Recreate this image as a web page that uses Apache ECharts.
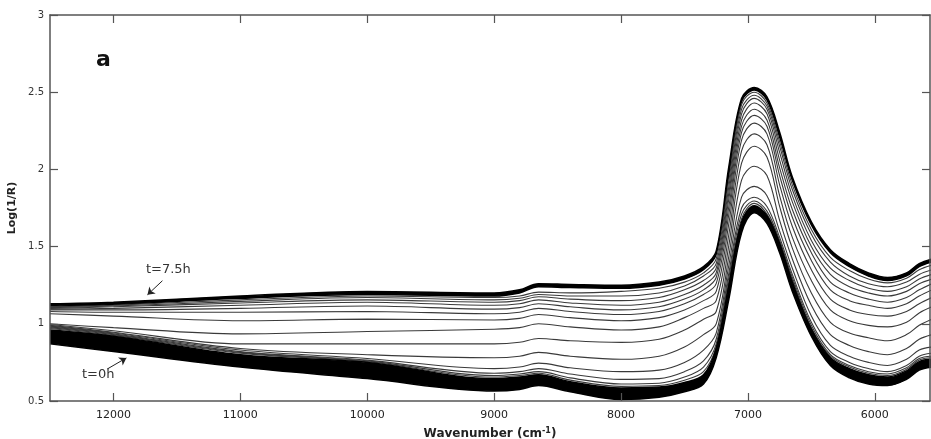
<!DOCTYPE html>
<html>
<head>
<meta charset="utf-8">
<script src="https://cdn.jsdelivr.net/npm/echarts@6/dist/echarts.min.js"></script>
<style>
html,body{margin:0;padding:0;background:#fff;}
#chart{width:931px;height:439px;}
</style>
</head>
<body>
<div id="chart"></div>
<script>
// wavenumber grid (cm-1)
var wavenumber = [12500, 12000, 11000, 10000, 9000, 8800, 8650, 8400, 8000, 7700, 7500, 7350, 7250, 7150, 7050, 6950, 6850, 6750, 6650, 6500, 6350, 6200, 6050, 5900, 5750, 5650, 5550];

// t=7.5h bundle (upper black band): top edge and lower edge
var lateTop = [1.13, 1.14, 1.18, 1.21, 1.20, 1.22, 1.26, 1.255, 1.25, 1.27, 1.31, 1.37, 1.47, 2.02, 2.46, 2.53, 2.47, 2.24, 1.95, 1.66, 1.48, 1.39, 1.33, 1.30, 1.33, 1.39, 1.42];
var lateLow = [1.115, 1.125, 1.165, 1.19, 1.18, 1.20, 1.24, 1.235, 1.23, 1.25, 1.29, 1.35, 1.45, 1.97, 2.44, 2.515, 2.45, 2.21, 1.93, 1.64, 1.46, 1.37, 1.31, 1.28, 1.31, 1.37, 1.40];

// intermediate spectra, top to bottom
var c01 = [1.11, 1.12, 1.155, 1.18, 1.17, 1.18, 1.205, 1.20, 1.21, 1.23, 1.27, 1.33, 1.42, 1.93, 2.42, 2.50, 2.43, 2.18, 1.90, 1.61, 1.43, 1.345, 1.29, 1.265, 1.295, 1.35, 1.38];
var c02 = [1.105, 1.115, 1.145, 1.17, 1.155, 1.165, 1.19, 1.18, 1.18, 1.20, 1.245, 1.31, 1.39, 1.89, 2.39, 2.48, 2.41, 2.15, 1.87, 1.58, 1.40, 1.31, 1.26, 1.24, 1.27, 1.32, 1.35];
var c03 = [1.10, 1.11, 1.135, 1.155, 1.14, 1.15, 1.175, 1.16, 1.15, 1.17, 1.22, 1.28, 1.36, 1.85, 2.36, 2.46, 2.39, 2.11, 1.83, 1.54, 1.36, 1.28, 1.23, 1.21, 1.24, 1.29, 1.32];
var c04 = [1.095, 1.10, 1.12, 1.14, 1.12, 1.13, 1.155, 1.135, 1.12, 1.14, 1.19, 1.25, 1.33, 1.81, 2.32, 2.43, 2.36, 2.06, 1.79, 1.50, 1.32, 1.24, 1.20, 1.18, 1.21, 1.26, 1.29];
var c05 = [1.09, 1.09, 1.10, 1.115, 1.095, 1.105, 1.13, 1.11, 1.09, 1.11, 1.16, 1.22, 1.30, 1.76, 2.28, 2.39, 2.32, 2.01, 1.74, 1.46, 1.27, 1.20, 1.16, 1.14, 1.17, 1.22, 1.26];
var c06 = [1.08, 1.075, 1.075, 1.08, 1.065, 1.075, 1.10, 1.08, 1.06, 1.08, 1.13, 1.19, 1.26, 1.71, 2.24, 2.35, 2.28, 1.96, 1.69, 1.41, 1.22, 1.15, 1.12, 1.10, 1.13, 1.18, 1.22];
var c07 = [1.065, 1.05, 1.02, 1.03, 1.025, 1.035, 1.06, 1.04, 1.02, 1.04, 1.09, 1.15, 1.21, 1.65, 2.19, 2.30, 2.23, 1.90, 1.63, 1.35, 1.16, 1.09, 1.06, 1.05, 1.08, 1.13, 1.17];
var c08 = [1.00, 0.975, 0.935, 0.95, 0.965, 0.975, 1.00, 0.98, 0.96, 0.98, 1.04, 1.10, 1.15, 1.58, 2.12, 2.23, 2.16, 1.83, 1.56, 1.28, 1.09, 1.02, 0.99, 0.98, 1.01, 1.07, 1.11];
var c09 = [0.995, 0.955, 0.87, 0.87, 0.87, 0.88, 0.905, 0.89, 0.88, 0.90, 0.96, 1.03, 1.08, 1.51, 2.04, 2.15, 2.08, 1.76, 1.49, 1.20, 1.01, 0.94, 0.91, 0.89, 0.93, 0.99, 1.03];
var c10 = [0.99, 0.945, 0.84, 0.80, 0.78, 0.79, 0.815, 0.79, 0.77, 0.79, 0.85, 0.93, 1.00, 1.44, 1.93, 2.02, 1.96, 1.67, 1.42, 1.12, 0.93, 0.86, 0.82, 0.80, 0.84, 0.90, 0.93];
var c11 = [0.985, 0.94, 0.83, 0.775, 0.71, 0.72, 0.745, 0.715, 0.69, 0.70, 0.75, 0.83, 0.94, 1.38, 1.82, 1.89, 1.83, 1.60, 1.36, 1.05, 0.86, 0.79, 0.75, 0.73, 0.77, 0.83, 0.85];
var c12 = [0.98, 0.935, 0.82, 0.765, 0.68, 0.69, 0.71, 0.675, 0.64, 0.645, 0.69, 0.76, 0.90, 1.33, 1.75, 1.82, 1.76, 1.56, 1.32, 1.01, 0.82, 0.75, 0.71, 0.69, 0.73, 0.79, 0.81];
var c13 = [0.975, 0.93, 0.815, 0.76, 0.665, 0.675, 0.69, 0.65, 0.61, 0.615, 0.655, 0.72, 0.87, 1.30, 1.71, 1.795, 1.73, 1.54, 1.30, 0.99, 0.80, 0.73, 0.69, 0.675, 0.715, 0.775, 0.79];
var c14 = [0.97, 0.925, 0.81, 0.755, 0.655, 0.665, 0.68, 0.635, 0.595, 0.60, 0.635, 0.69, 0.85, 1.27, 1.68, 1.78, 1.71, 1.53, 1.285, 0.975, 0.79, 0.72, 0.68, 0.665, 0.705, 0.765, 0.78];

// t=0h bundle (lower black band): upper edge and bottom edge
var earlyTop = [0.96, 0.92, 0.80, 0.75, 0.645, 0.655, 0.67, 0.625, 0.585, 0.59, 0.62, 0.67, 0.84, 1.25, 1.66, 1.765, 1.70, 1.52, 1.27, 0.965, 0.78, 0.71, 0.67, 0.655, 0.695, 0.755, 0.77];
var earlyLow = [0.87, 0.82, 0.72, 0.645, 0.565, 0.575, 0.60, 0.56, 0.51, 0.525, 0.56, 0.61, 0.78, 1.16, 1.59, 1.72, 1.65, 1.46, 1.21, 0.92, 0.73, 0.65, 0.61, 0.60, 0.64, 0.70, 0.72];

var xTicks = [6000, 7000, 8000, 9000, 10000, 11000, 12000];

var midCurves = [c01, c02, c03, c04, c05, c06, c07, c08, c09, c10, c11, c12, c13, c14];

// rows are [log(1/R), wavenumber] so that the stack runs on the y value (dim 0)
function rows(vals) {
	return wavenumber.map(function (w, i) { return [vals[i], w]; });
}
function gap(hi, lo) {
	return wavenumber.map(function (w, i) { return [+(hi[i] - lo[i]).toFixed(4), w]; });
}

var SMOOTH = 0.35;
var ENC = { x: 1, y: 0 };
var series = [];

// upper band
series.push({
	type: 'line', stack: 'late', data: rows(lateLow), encode: ENC, smooth: SMOOTH, symbol: 'none',
	lineStyle: { color: '#000', width: 1.5 }
});
series.push({
	type: 'line', stack: 'late', data: gap(lateTop, lateLow), encode: ENC, smooth: SMOOTH, symbol: 'none',
	lineStyle: { color: '#000', width: 1.5 },
	areaStyle: { color: '#000', opacity: 1 }
});

midCurves.forEach(function (c) {
	series.push({
		type: 'line', data: rows(c), encode: ENC, smooth: SMOOTH, symbol: 'none',
		lineStyle: { color: '#3a3a3a', width: 1.1 }
	});
});

// lower band
series.push({
	type: 'line', stack: 'early', data: rows(earlyLow), encode: ENC, smooth: SMOOTH, symbol: 'none',
	lineStyle: { color: '#000', width: 1.5 }
});
series.push({
	type: 'line', stack: 'early', data: gap(earlyTop, earlyLow), encode: ENC, smooth: SMOOTH, symbol: 'none',
	lineStyle: { color: '#000', width: 1.5 },
	areaStyle: { color: '#000', opacity: 1 }
});

// annotations (arrows + time labels), in data coordinates
series.push({
	type: 'line', data: [], z: 5,
	markLine: {
		silent: true, symbol: ['none', 'arrow'], symbolSize: 7,
		label: { show: false },
		lineStyle: { color: '#222', width: 1, type: 'solid' },
		data: [
			[{ coord: [11614, 1.279] }, { coord: [11732, 1.188] }],
			[{ coord: [12047, 0.708] }, { coord: [11898, 0.779] }]
		]
	},
	markPoint: {
		silent: true, symbol: 'circle', symbolSize: 0,
		label: { show: true, position: 'inside', formatter: '{b}', color: '#333', fontSize: 13, fontFamily: 'DejaVu Sans' },
		data: [
			{ name: 't=7.5h', coord: [11567, 1.35] },
			{ name: 't=0h', coord: [12120, 0.67] }
		]
	}
});

var axisCol = '#555';
var plain = function (v) { return String(v); };
var chart = echarts.init(document.getElementById('chart'));
chart.setOption({
	animation: false,
	backgroundColor: '#fff',
	grid: { left: 50, right: 1, top: 15, bottom: 38, containLabel: false, outerBoundsMode: 'none' },
	xAxis: [{
		type: 'value', inverse: true, min: 5565, max: 12500, position: 'bottom', z: 10,
		name: '{a|Wavenumber (cm}{s|-1}{a|)}', nameLocation: 'middle', nameGap: 26,
		nameTextStyle: {
			rich: {
				a: { fontSize: 12, fontWeight: 'bold', color: '#222', fontFamily: 'DejaVu Sans' },
				s: { fontSize: 8, fontWeight: 'bold', color: '#222', fontFamily: 'DejaVu Sans', verticalAlign: 'top', padding: [0, 0, 6, 0] }
			}
		},
		axisLine: { show: true, onZero: false, lineStyle: { color: axisCol, width: 1.5 } },
		axisTick: { show: true, inside: true, length: 8, customValues: xTicks, lineStyle: { color: axisCol, width: 1.2 } },
		axisLabel: { customValues: xTicks, formatter: plain, color: '#222', fontSize: 11, fontFamily: 'DejaVu Sans', margin: 9 },
		splitLine: { show: false }
	}, {
		type: 'value', inverse: true, min: 5565, max: 12500, position: 'top', z: 10,
		axisLine: { show: true, onZero: false, lineStyle: { color: axisCol, width: 1.5 } },
		axisTick: { show: true, inside: true, length: 8, customValues: xTicks, lineStyle: { color: axisCol, width: 1.2 } },
		axisLabel: { show: false },
		splitLine: { show: false }
	}],
	yAxis: [{
		type: 'value', min: 0.5, max: 3, interval: 0.5, position: 'left', z: 10,
		name: 'Log(1/R)', nameLocation: 'middle', nameGap: 32, nameRotate: 90,
		nameTextStyle: { fontSize: 11, fontWeight: 'bold', color: '#222', fontFamily: 'DejaVu Sans' },
		axisLine: { show: true, onZero: false, lineStyle: { color: axisCol, width: 1.5 } },
		axisTick: { show: true, inside: true, length: 8, lineStyle: { color: axisCol, width: 1.2 } },
		axisLabel: { formatter: plain, color: '#333', fontSize: 10, fontFamily: 'DejaVu Sans', margin: 6 },
		splitLine: { show: false }
	}, {
		type: 'value', min: 0.5, max: 3, interval: 0.5, position: 'right', z: 10,
		axisLine: { show: true, onZero: false, lineStyle: { color: axisCol, width: 1.5 } },
		axisTick: { show: true, inside: true, length: 8, lineStyle: { color: axisCol, width: 1.2 } },
		axisLabel: { show: false },
		splitLine: { show: false }
	}],
	graphic: [{
		type: 'text', left: 96, top: 49, z: 20,
		style: { text: 'a', font: 'bold 22px "DejaVu Sans"', fill: '#111' }
	}],
	series: series
});
</script>
</body>
</html>
